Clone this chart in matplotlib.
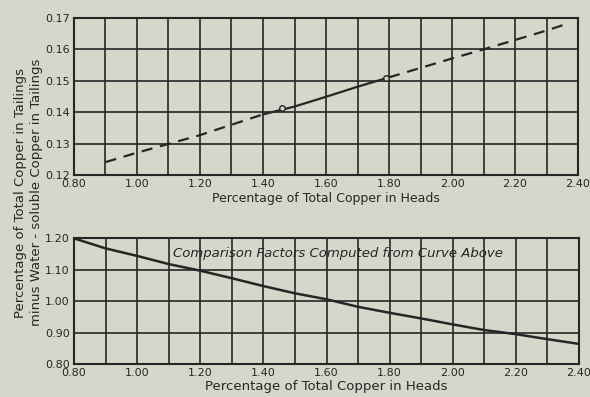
import numpy as np
import matplotlib
matplotlib.use("Agg")
import matplotlib.pyplot as plt

# top curve: tailings vs heads
heads_top = [0.90, 1.00, 1.10, 1.20, 1.30, 1.40, 1.50, 1.60, 1.70, 1.80, 1.90, 2.00, 2.10, 2.20, 2.30, 2.36]
tailings = [0.1241, 0.1271, 0.1299, 0.1327, 0.1360, 0.1393, 0.1418, 0.1449, 0.1481, 0.1511, 0.1541, 0.1571, 0.1600, 0.1630, 0.1660, 0.1680]
# measured points on the solid part
pts_heads = [1.46, 1.79]
pts_tail = [0.1412, 0.1510]

# bottom curve: comparison factors
heads_bot = [0.80, 0.90, 1.00, 1.10, 1.20, 1.30, 1.40, 1.50, 1.60, 1.70, 1.80, 1.90, 2.00, 2.10, 2.20, 2.30, 2.40]
factor = [1.200, 1.168, 1.144, 1.118, 1.097, 1.073, 1.048, 1.025, 1.006, 0.982, 0.963, 0.945, 0.926, 0.908, 0.895, 0.879, 0.864]

x_ticks = [0.80, 0.90, 1.00, 1.10, 1.20, 1.30, 1.40, 1.50, 1.60, 1.70, 1.80, 1.90, 2.00, 2.10, 2.20, 2.30, 2.40]
x_labels = ["0.80", "", "1.00", "", "1.20", "", "1.40", "", "1.60", "", "1.80", "", "2.00", "", "2.20", "", "2.40"]
top_yticks = [0.12, 0.13, 0.14, 0.15, 0.16, 0.17]
bot_yticks = [0.80, 0.90, 1.00, 1.10, 1.20]

bg = "#d4d8ca"
ink = "#262626"

plt.rcParams["font.family"] = "DejaVu Sans"
fig = plt.figure(figsize=(5.9, 3.97), dpi=100)
fig.patch.set_facecolor(bg)

ax1 = fig.add_axes([0.1254, 0.5592, 0.8543, 0.3955])
ax2 = fig.add_axes([0.1254, 0.0831, 0.8560, 0.3166])

for ax in (ax1, ax2):
    ax.set_facecolor(bg)
    ax.set_xlim(0.80, 2.40)
    ax.set_xticks(x_ticks)
    ax.set_xticklabels(x_labels, fontsize=8, color=ink)
    ax.grid(True, color=ink, linewidth=1.2)
    ax.tick_params(length=0, pad=3, labelcolor=ink)
    for s in ax.spines.values():
        s.set_color(ink)
        s.set_linewidth(1.5)

hx = np.array(heads_top)
ht = np.array(tailings)
lo = hx <= 1.40
hi = hx >= 1.80
mid = (hx >= 1.40) & (hx <= 1.80)
ax1.plot(hx[lo], ht[lo], color=ink, lw=1.6, ls=(0, (5, 3.5)))
ax1.plot(hx[mid], ht[mid], color=ink, lw=1.6)
ax1.plot(hx[hi], ht[hi], color=ink, lw=1.6, ls=(0, (5, 3.5)))
ax1.plot(pts_heads, pts_tail, "o", ms=4, mfc=bg, mec=ink, mew=1)
ax1.set_ylim(0.12, 0.17)
ax1.set_yticks(top_yticks)
ax1.set_yticklabels(["%.2f" % v for v in top_yticks], fontsize=8)
ax1.set_xlabel("Percentage of Total Copper in Heads", fontsize=9, color=ink, labelpad=2)

ax2.plot(heads_bot, factor, color=ink, lw=1.8)
ax2.set_ylim(0.80, 1.20)
ax2.set_yticks(bot_yticks)
ax2.set_yticklabels(["%.2f" % v for v in bot_yticks], fontsize=8)
ax2.set_xlabel("Percentage of Total Copper in Heads", fontsize=9.5, color=ink, labelpad=1)
ax2.text(1.114, 1.152, "Comparison Factors Computed from Curve Above",
         fontsize=9.5, style="italic", color=ink, va="center", ha="left")

fig.text(0.048, 0.515, "Percentage of Total Copper in Tailings\nminus Water - soluble Copper in Tailings",
         rotation=90, ha="center", va="center", fontsize=9.5, color=ink, linespacing=1.35)

fig.savefig("out.png", dpi=100, facecolor=bg)
